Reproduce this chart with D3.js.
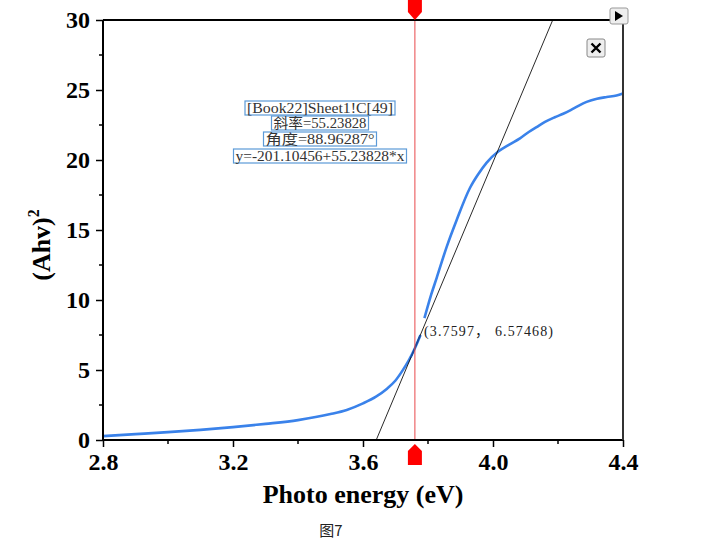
<!DOCTYPE html>
<html><head><meta charset="utf-8">
<script src="https://cdn.jsdelivr.net/npm/d3@7"></script>
<style>html,body{margin:0;padding:0;background:#fff;}svg{display:block;}</style>
</head><body>
<svg id="c" width="701" height="550"></svg>
<script>
// ---- data ----
const energyLow = [2.8, 2.9, 3.0, 3.1, 3.2, 3.3, 3.4, 3.5, 3.55, 3.6, 3.64, 3.673, 3.7, 3.72, 3.74, 3.76, 3.777];
const ahvLow    = [0.28, 0.42, 0.56, 0.72, 0.92, 1.15, 1.42, 1.85, 2.15, 2.62, 3.1, 3.65, 4.25, 4.9, 5.65, 6.57, 7.5];
const energyHigh = [3.789, 3.81, 3.827, 3.8575, 3.888, 3.929, 3.955, 3.98, 4.016, 4.05, 4.083, 4.11, 4.134, 4.16, 4.19, 4.216, 4.25, 4.288, 4.32, 4.35, 4.38, 4.4];
const ahvHigh    = [8.7, 10.4, 11.6, 13.8, 15.7, 18.0, 19.0, 19.8, 20.6, 21.1, 21.55, 22.0, 22.35, 22.72, 23.05, 23.3, 23.7, 24.15, 24.38, 24.5, 24.6, 24.75];
const xTicks = [2.8, 3.2, 3.6, 4.0, 4.4];
const xMinor = [3.0, 3.4, 3.8, 4.2];
const yTicks = [0, 5, 10, 15, 20, 25, 30];
const yMinor = [2.5, 7.5, 12.5, 17.5, 22.5, 27.5];
const fitIntercept = -201.10456, fitSlope = 55.23828;
const tangentPoint = [3.7597, 6.57468];
const infoLines = ["[Book22]Sheet1!C[49]", "斜率=55.23828", "角度=88.96287°", "y=-201.10456+55.23828*x"];
const pointLabel = "(3.7597，  6.57468)";
const xTitle = "Photo energy (eV)";
const caption = "图7";

// ---- layout ----
const svg = d3.select("#c");
const L = 103, R = 623, T = 20, B = 440;
const x = d3.scaleLinear().domain([2.8, 4.4]).range([L, R]);
const y = d3.scaleLinear().domain([0, 30]).range([B, T]);

// curve
const line = d3.line().x(d => x(d[0])).y(d => y(d[1])).curve(d3.curveMonotoneX);
const lowPts = energyLow.map((e, i) => [e, ahvLow[i]]);
const highPts = energyHigh.map((e, i) => [e, ahvHigh[i]]);
[lowPts, highPts].forEach(p => svg.append("path").attr("d", line(p))
  .attr("fill", "none").attr("stroke", "#3a82ea").attr("stroke-width", 2.6).attr("stroke-linejoin", "round"));

// tangent line from y=0 to y=30
const xa = (0 - fitIntercept) / fitSlope, xb = (30 - fitIntercept) / fitSlope;
svg.append("line").attr("x1", x(xa)).attr("y1", y(0)).attr("x2", x(xb)).attr("y2", y(30))
  .attr("stroke", "#111").attr("stroke-width", 0.9);
// short dark tangent segment near point
svg.append("line").attr("x1", x(tangentPoint[0] - 0.012)).attr("y1", y(fitIntercept + fitSlope * (tangentPoint[0] - 0.012)))
  .attr("x2", x(tangentPoint[0] + 0.016)).attr("y2", y(fitIntercept + fitSlope * (tangentPoint[0] + 0.016)))
  .attr("stroke", "#1d4fa0").attr("stroke-width", 1.6);

// red vertical line
const rx = x(tangentPoint[0]);
svg.append("line").attr("x1", rx).attr("x2", rx).attr("y1", T).attr("y2", B)
  .attr("stroke", "#e8474a").attr("stroke-width", 1);

// axes
const axisStroke = "#000";
const gx = svg.append("g").attr("transform", `translate(0,${B})`)
  .call(d3.axisBottom(x).tickValues(xTicks).tickFormat(d3.format(".1f")).tickSize(7).tickPadding(6));
gx.append("g").selectAll("line").data(xMinor).join("line")
  .attr("x1", d => x(d)).attr("x2", d => x(d)).attr("y1", 0).attr("y2", 4).attr("stroke", axisStroke).attr("stroke-width", 1.5);
const gy = svg.append("g").attr("transform", `translate(${L},0)`)
  .call(d3.axisLeft(y).tickValues(yTicks).tickSize(7).tickPadding(6));
gy.append("g").selectAll("line").data(yMinor).join("line")
  .attr("y1", d => y(d)).attr("y2", d => y(d)).attr("x1", 0).attr("x2", -4).attr("stroke", axisStroke).attr("stroke-width", 1.5);
[gx, gy].forEach(g => {
  g.select(".domain").attr("stroke", axisStroke).attr("stroke-width", 2);
  g.selectAll(".tick line").attr("stroke", axisStroke).attr("stroke-width", 1.5);
  g.selectAll(".tick text").attr("font-family", "'Liberation Serif', 'Times New Roman', serif")
    .attr("font-weight", "bold").attr("font-size", 24).attr("fill", "#000");
});
gy.select(".domain").attr("d", `M0,${T}V${B}`);
gx.select(".domain").attr("d", `M${L},0H${R}`);
// top & right frame
svg.append("line").attr("x1", L).attr("x2", R).attr("y1", T).attr("y2", T).attr("stroke", "#000").attr("stroke-width", 2);
svg.append("line").attr("x1", R).attr("x2", R).attr("y1", T).attr("y2", B).attr("stroke", "#333").attr("stroke-width", 2);

// axis titles
svg.append("text").attr("x", 363).attr("y", 503).attr("text-anchor", "middle")
  .attr("font-family", "'Liberation Serif', serif").attr("font-weight", "bold").attr("font-size", 26).text(xTitle);
const yt = svg.append("text").attr("transform", "translate(50,245) rotate(-90)").attr("text-anchor", "middle")
  .attr("font-family", "'Liberation Serif', serif").attr("font-weight", "bold").attr("font-size", 26);
yt.append("tspan").text("(Ahv)");
yt.append("tspan").attr("font-size", 16).attr("dy", -11).text("2");

// caption
svg.append("text").attr("x", 331).attr("y", 536).attr("text-anchor", "middle")
  .attr("font-family", "'Noto Sans CJK SC', sans-serif").attr("font-size", 15).attr("fill", "#222").text(caption);

// info boxes
const infoFont = "'Liberation Serif', 'Noto Sans CJK SC', serif";
const cx = 320;
const boxY = [101, 116, 132, 149];
infoLines.forEach((t, i) => {
  const g = svg.append("g");
  const w = [150, 97, 113, 173][i];
  g.append("rect").attr("x", cx - w / 2).attr("y", boxY[i]).attr("width", w).attr("height", 14)
    .attr("fill", "#fff").attr("stroke", "#5b9ad8").attr("stroke-width", 1.2);
  g.append("text").attr("x", cx).attr("y", boxY[i] + 12).attr("text-anchor", "middle")
    .attr("font-family", infoFont).attr("font-size", 14).attr("fill", "#333")
    .attr("textLength", [146, 93, 109, 169][i]).attr("lengthAdjust", "spacingAndGlyphs").text(t);
});

// point label
svg.append("text").attr("x", 424).attr("y", 336).attr("font-family", "'Liberation Serif', 'Noto Sans CJK SC', serif")
  .attr("font-size", 14).attr("fill", "#222").attr("textLength", 129).attr("lengthAdjust", "spacing").text(pointLabel);

// red markers
svg.append("path").attr("d", `M${rx - 7},0V12L${rx},20L${rx + 7},12V0Z`).attr("fill", "#f00");
svg.append("path").attr("d", `M${rx - 7},465V451L${rx},444L${rx + 7},451V465Z`).attr("fill", "#f00");

// buttons
const b1 = svg.append("g");
b1.append("rect").attr("x", 610).attr("y", 8).attr("width", 18).attr("height", 16).attr("rx", 2)
  .attr("fill", "#eee").attr("stroke", "#999");
b1.append("path").attr("d", "M615,11L623,16L615,21Z").attr("fill", "#000");
const b2 = svg.append("g");
b2.append("rect").attr("x", 587).attr("y", 39).attr("width", 18).attr("height", 18).attr("rx", 2)
  .attr("fill", "#eee").attr("stroke", "#888");
b2.append("path").attr("d", "M591.5,43.5L600.5,52.5M600.5,43.5L591.5,52.5").attr("stroke", "#000").attr("stroke-width", 2.4);
</script>
</body></html>
